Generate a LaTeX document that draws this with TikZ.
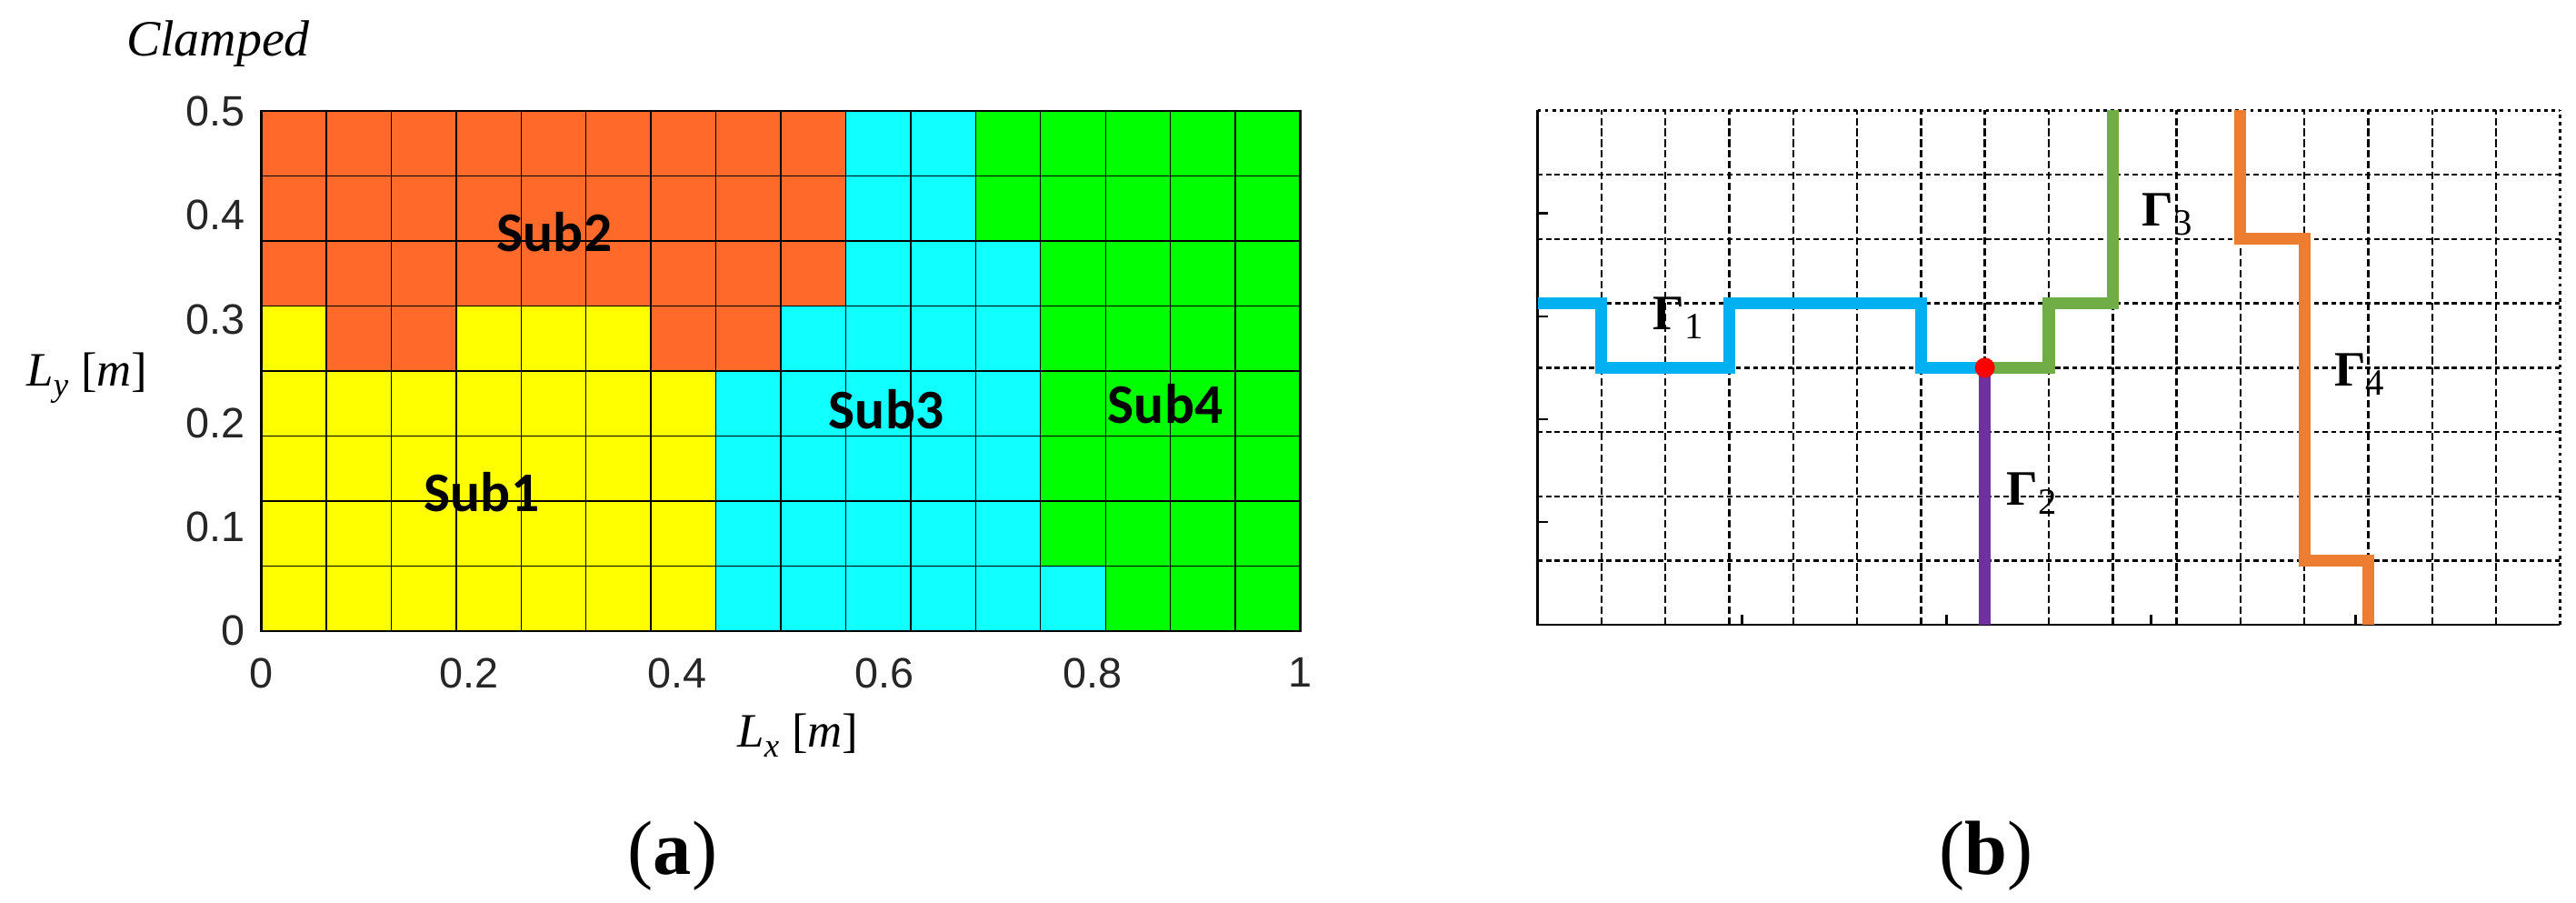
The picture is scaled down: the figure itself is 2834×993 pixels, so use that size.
\documentclass[tikz,border=0pt]{standalone}
\usepackage{fontspec}
\setmainfont{Liberation Serif}
\newfontfamily\ticksf{Liberation Sans}
\newfontfamily\subf{Carlito}
\definecolor{colY}{RGB}{255,255,0}
\definecolor{colO}{RGB}{255,106,43}
\definecolor{colC}{RGB}{16,255,255}
\definecolor{colG}{RGB}{0,255,0}
\definecolor{gblue}{RGB}{0,176,240}
\definecolor{ggreen}{RGB}{112,173,71}
\definecolor{gpurple}{RGB}{112,48,160}
\definecolor{gorange}{RGB}{237,125,49}
\definecolor{tickgray}{RGB}{38,38,38}
\begin{document}
\begin{tikzpicture}[x=0.1mm,y=-0.1mm,
  cellline/.style={line width=0.4pt,draw=black},
  frameline/.style={line width=0.6pt,draw=black},
  ticklab/.style={font={\ticksf\fontsize{13.3}{16}\selectfont},text=tickgray,inner sep=0pt},
  sublab/.style={font={\subf\bfseries\fontsize{17.5}{20}\selectfont},inner sep=0pt,anchor=base},
  axlab/.style={font={\fontsize{15}{18}\selectfont},inner sep=0pt,anchor=base},
  panlab/.style={font={\fontsize{24}{28}\selectfont},inner sep=0pt,anchor=base},
  glab/.style={font={\fontsize{15.5}{18}\selectfont},inner sep=0pt,anchor=base west},
  vgrid/.style={line width=0.7pt,dash pattern=on 2.3pt off 1.1pt},
  hgrid/.style={line width=0.7pt,dash pattern=on 1.6pt off 1.1pt},
  edgegrid/.style={line width=0.7pt,dash pattern=on 1.1pt off 1.2pt},
  axisline/.style={line width=0.65pt},
  gamline/.style={line width=3.7pt}]
\useasboundingbox (0,0) rectangle (2834,993);
% ---------------- panel (a) ----------------
\def\ax{287.5}\def\ay{693.9}\def\cw{71.44}\def\ch{71.45}
\foreach \row [count=\j from 0] in {
  {Y,Y,Y,Y,Y,Y,Y,C,C,C,C,C,C,G,G,G},
  {Y,Y,Y,Y,Y,Y,Y,C,C,C,C,C,G,G,G,G},
  {Y,Y,Y,Y,Y,Y,Y,C,C,C,C,C,G,G,G,G},
  {Y,Y,Y,Y,Y,Y,Y,C,C,C,C,C,G,G,G,G},
  {Y,O,O,Y,Y,Y,O,O,C,C,C,C,G,G,G,G},
  {O,O,O,O,O,O,O,O,O,C,C,C,G,G,G,G},
  {O,O,O,O,O,O,O,O,O,C,C,G,G,G,G,G},
  {O,O,O,O,O,O,O,O,O,C,C,G,G,G,G,G}}{
  \foreach \c [count=\i from 0] in \row {
    \fill[fill=col\c] ({\ax+\i*\cw},{\ay-\j*\ch}) rectangle ({\ax+(\i+1)*\cw},{\ay-(\j+1)*\ch});
  }
}
\foreach \i in {1,...,15}
  \draw[cellline] ({\ax+\i*\cw},{\ay}) -- ({\ax+\i*\cw},{\ay-8*\ch});
\foreach \j in {1,...,7}
  \draw[cellline] ({\ax},{\ay-\j*\ch}) -- ({\ax+16*\cw},{\ay-\j*\ch});
\draw[frameline] ({\ax},{\ay}) rectangle ({\ax+16*\cw},{\ay-8*\ch});
% tick labels
\foreach \v/\t [count=\k] in {0/0,0.1/0.1,0.2/0.2,0.3/0.3,0.4/0.4,0.5/0.5}
  \node[ticklab,anchor=east] (ytick\k) at (270,{\ay-\v*1143.2}) {\t};
\foreach \u/\t [count=\k] in {0/0,0.2/0.2,0.4/0.4,0.6/0.6,0.8/0.8,1/1}
  \node[ticklab,anchor=north] (xtick\k) at ({\ax+\u*1143.1},723) {\t};
% labels
\node[sublab] (sub1) at (530,563) {Sub1};
\node[sublab] (sub2) at (610,277) {Sub2};
\node[sublab] (sub3) at (975,471.5) {Sub3};
\node[sublab] (sub4) at (1282,466) {Sub4};
\node[axlab,font={\itshape\fontsize{15.9}{18}\selectfont}] (clamped) at (240,62) {Clamped};
\node[axlab] (ylab) at (96,425) {\textit{L}\raisebox{-3pt}{\fontsize{10.5}{12}\selectfont\textit{y}}\hspace{4pt}[\textit{m}]};
\node[axlab] (xlab) at (878,822) {\textit{L}\raisebox{-3pt}{\fontsize{10.5}{12}\selectfont\textit{x}}\hspace{4pt}[\textit{m}]};
\node[panlab] (pana) at (740,962) {(\textbf{a})};
% ---------------- panel (b) ----------------
\def\bx{1691.5}\def\by{687.3}\def\bw{70.31}\def\bh{70.75}
\foreach \i in {0,...,16}
  \foreach \j in {0,...,8}
    \coordinate (p\i-\j) at ({\bx+\i*\bw},{\by-\j*\bh});
\foreach \i in {1,...,15}
  \draw[vgrid] (p\i-0) -- (p\i-8);
\foreach \j in {1,...,7}
  \draw[hgrid] (p0-\j) -- (p16-\j);
\draw[edgegrid] (p0-8) -- (p16-8);
\draw[edgegrid] (p16-0) -- (p16-8);
\draw[axisline] (p0-8) -- (p0-0) -- (p16-0);
\foreach \v in {0.1,0.2,0.3,0.4}
  \draw[axisline] ({\bx},{\by-\v*1132}) -- ++(11,0);
\foreach \u in {0.2,0.4,0.6,0.8}
  \draw[axisline] ({\bx+\u*1125},{\by}) -- ++(0,-11);
% interface lines
\draw[gamline,gblue] (p0-5) -- (p1-5) -- (p1-4) -- (p3-4) -- (p3-5) -- (p6-5) -- (p6-4) -- (p7-4);
\draw[gamline,ggreen] (p7-4) -- (p8-4) -- (p8-5) -- (p9-5) -- (p9-8);
\draw[gamline,gpurple] (p7-4) -- (p7-0);
\draw[gamline,gorange] (p11-8) -- (p11-6) -- (p12-6) -- (p12-1) -- (p13-1) -- (p13-0);
\node[circle,fill=red,inner sep=0pt,minimum size=2.2mm] (junction) at (p7-4) {};
\node[glab] (g1) at (1818,363) {\textbf{Γ}\raisebox{-2.8pt}{\fontsize{11.6}{12}\selectfont 1}};
\node[glab] (g2) at (2207,556) {\textbf{Γ}\raisebox{-2.8pt}{\fontsize{11.6}{12}\selectfont 2}};
\node[glab] (g3) at (2356,249) {\textbf{Γ}\raisebox{-2.8pt}{\fontsize{11.6}{12}\selectfont 3}};
\node[glab] (g4) at (2567.5,425) {\textbf{Γ}\raisebox{-2.8pt}{\fontsize{11.6}{12}\selectfont 4}};
\node[panlab] (panb) at (2185,962) {(\textbf{b})};
\end{tikzpicture}
\end{document}
